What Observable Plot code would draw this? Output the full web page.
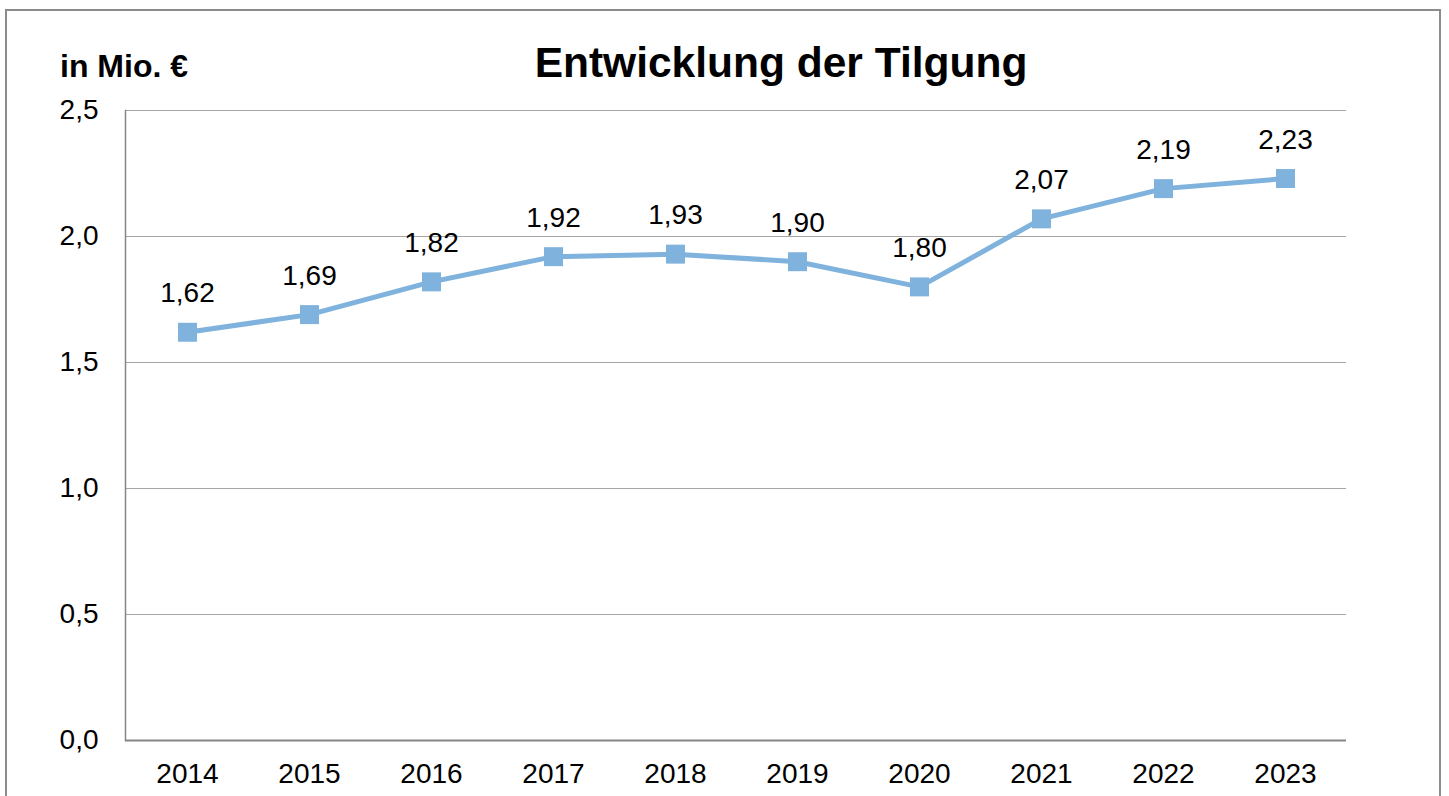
<!DOCTYPE html>
<html><head><meta charset="utf-8">
<script src="https://cdn.jsdelivr.net/npm/d3@7"></script>
<script src="https://cdn.jsdelivr.net/npm/@observablehq/plot@0.6"></script>
<style>
body{margin:0;background:#fff;font-family:"Liberation Sans",Arial,sans-serif;}
#wrap{position:relative;width:1449px;height:796px;overflow:hidden;background:#fff;}
#frame{position:absolute;left:5px;top:9px;width:1436px;height:900px;border:2px solid #8c8c8c;box-sizing:border-box;}
#title{position:absolute;left:781px;top:42px;transform:translateX(-50%);font-size:42.5px;line-height:1;font-weight:bold;white-space:nowrap;color:#000;}
#unit{position:absolute;left:60px;top:50px;font-size:32px;line-height:1;font-weight:bold;color:#000;white-space:nowrap;}
#chart{position:absolute;left:0;top:0;}
</style>
</head><body>
<div id="wrap">
  <div id="frame"></div>
  <div id="chart"></div>
  <div id="title">Entwicklung der Tilgung</div>
  <div id="unit">in Mio. €</div>
</div>
<script>
const years = ["2014","2015","2016","2017","2018","2019","2020","2021","2022","2023"];
const values = [1.62,1.69,1.82,1.92,1.93,1.90,1.80,2.07,2.19,2.23];
const yTicks = [0,0.5,1.0,1.5,2.0,2.5];

const data = years.map((y,i)=>({year:y, value:values[i]}));
const comma = (f)=> (d)=> d3.format(f)(d).replace(".", ",");
const lineColor = "#7fb2dc";

const chart = Plot.plot({
  width:1449, height:796,
  marginTop:110, marginBottom:56, marginLeft:125, marginRight:103,
  style:{fontFamily:"'Liberation Sans', Arial, sans-serif", fontSize:"28px", color:"#000", background:"transparent"},
  x:{type:"band", domain:years, padding:0, label:null, tickSize:0, tickPadding:23},
  y:{domain:[0,2.5], ticks:yTicks, tickFormat:comma(".1f"), label:null, tickSize:0, tickPadding:27},
  marks:[
    Plot.ruleY(yTicks.filter(d=>d>0), {stroke:"#a6a6a6", strokeWidth:1}),
    Plot.frame({anchor:"left", stroke:"#868686", strokeWidth:1.5}),
    Plot.ruleY([0], {stroke:"#868686", strokeWidth:2}),
    Plot.lineY(data, {x:"year", y:"value", stroke:lineColor, strokeWidth:5}),
    Plot.dot(data, {x:"year", y:"value", symbol:"square", r:10.7, fill:lineColor, stroke:"none"}),
    Plot.text(data, {x:"year", y:"value", text:d=>comma(".2f")(d.value), dy:-39, fontSize:28, fill:"#000"})
  ]
});
document.getElementById("chart").appendChild(chart);
</script>
</body></html>
